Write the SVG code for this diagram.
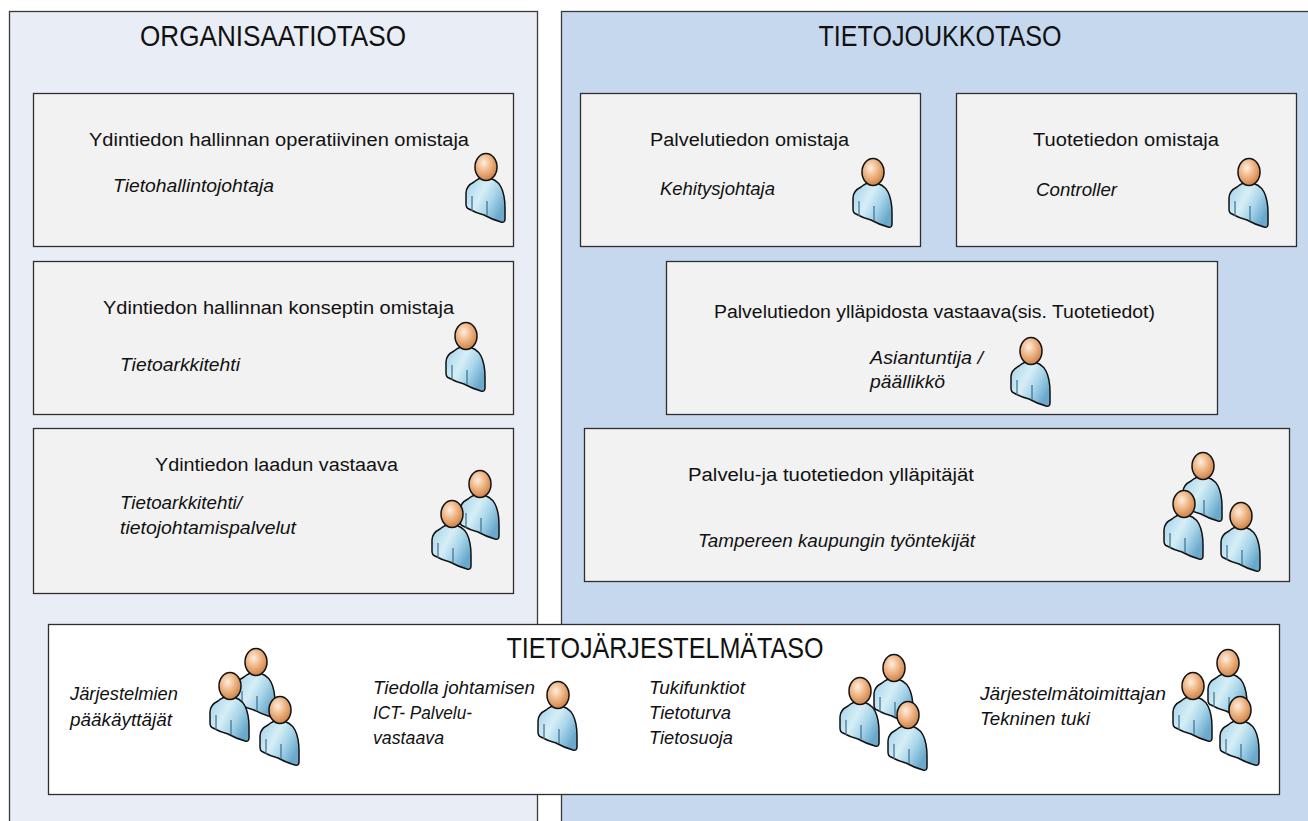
<svg xmlns="http://www.w3.org/2000/svg" width="1308" height="821" viewBox="0 0 1308 821">
<style>
.panel{stroke:#3a3a3a;stroke-width:1.3}
.box{fill:#f2f2f2;stroke:#2e2e2e;stroke-width:1.3}
.t{font-family:"Liberation Sans",Arial,sans-serif;fill:#111}
.h{font-size:30px}
.n{font-size:18px}
.i{font-size:18px;font-style:italic}
</style>
<defs>
<radialGradient id="gHead" cx="0.4" cy="0.35" r="0.7">
<stop offset="0" stop-color="#fdeee0"/>
<stop offset="0.45" stop-color="#f0b888"/>
<stop offset="1" stop-color="#c97c40"/>
</radialGradient>
<linearGradient id="gBody" x1="0" y1="0" x2="1" y2="0.6">
<stop offset="0" stop-color="#9fd0ea"/>
<stop offset="0.45" stop-color="#d6eef6"/>
<stop offset="0.7" stop-color="#a9d6ea"/>
<stop offset="1" stop-color="#6aa8cc"/>
</linearGradient>
<symbol id="person" viewBox="0 0 40 70" width="40" height="70" overflow="visible">
<path d="M8 29 Q14 24 20 25 Q30 25 35 34 Q39 42 39 55 L39 66 Q39 70 35 69 Q25 66 18 62 Q10 60 3 56 Q0 55 0 51 L0 40 Q0 33 8 29 Z" fill="url(#gBody)" stroke="#111" stroke-width="1.5"/>
<path d="M14 26 Q20 30 26 26 L26 24 L14 24 Z" fill="#5f9cc0"/>
<path d="M6 43 L6 58 M21 48 L21 63" stroke="#3d6f90" stroke-width="1.2" fill="none"/>
<ellipse cx="20" cy="14" rx="11" ry="13.5" fill="url(#gHead)" stroke="#111" stroke-width="1.5"/>
</symbol>
</defs>

<g id="panel-organisaatiotaso">
<rect class="panel" x="9.5" y="11.5" width="528" height="830" fill="#e9edf5"/>
<text class="t h" x="273" y="46" text-anchor="middle" textLength="266" lengthAdjust="spacingAndGlyphs">ORGANISAATIOTASO</text>
</g>
<g id="panel-tietojoukkotaso">
<rect class="panel" x="561.5" y="11.5" width="780" height="830" fill="#c6d8ee"/>
<text class="t h" x="940" y="46" text-anchor="middle" textLength="243" lengthAdjust="spacingAndGlyphs">TIETOJOUKKOTASO</text>
</g>

<g id="node-operatiivinen">
<rect class="box" x="33.5" y="93.5" width="480" height="153"/>
<text class="t n" x="89" y="146" textLength="380" lengthAdjust="spacingAndGlyphs">Ydintiedon hallinnan operatiivinen omistaja</text>
<text class="t i" x="113" y="192" textLength="161" lengthAdjust="spacingAndGlyphs">Tietohallintojohtaja</text>
<use href="#person" x="466" y="153"/>
</g>

<g id="node-konsepti">
<rect class="box" x="33.5" y="261.5" width="480" height="153"/>
<text class="t n" x="103" y="314" textLength="351" lengthAdjust="spacingAndGlyphs">Ydintiedon hallinnan konseptin omistaja</text>
<text class="t i" x="120" y="371" textLength="120" lengthAdjust="spacingAndGlyphs">Tietoarkkitehti</text>
<use href="#person" x="446" y="322"/>
</g>

<g id="node-laatu">
<rect class="box" x="33.5" y="428.5" width="480" height="165"/>
<text class="t n" x="155" y="471" textLength="243" lengthAdjust="spacingAndGlyphs">Ydintiedon laadun vastaava</text>
<text class="t i" x="120" y="509" textLength="122" lengthAdjust="spacingAndGlyphs">Tietoarkkitehti/</text>
<text class="t i" x="120" y="534" textLength="176" lengthAdjust="spacingAndGlyphs">tietojohtamispalvelut</text>
<use href="#person" x="460" y="470"/>
<use href="#person" x="432" y="500"/>
</g>

<g id="node-palvelutiedon-omistaja">
<rect class="box" x="580.5" y="93.5" width="340" height="153"/>
<text class="t n" x="650" y="146" textLength="199" lengthAdjust="spacingAndGlyphs">Palvelutiedon omistaja</text>
<text class="t i" x="660" y="195" textLength="115" lengthAdjust="spacingAndGlyphs">Kehitysjohtaja</text>
<use href="#person" x="853" y="158"/>
</g>

<g id="node-tuotetiedon-omistaja">
<rect class="box" x="956.5" y="93.5" width="340" height="153"/>
<text class="t n" x="1033" y="146" textLength="186" lengthAdjust="spacingAndGlyphs">Tuotetiedon omistaja</text>
<text class="t i" x="1036" y="196" textLength="81" lengthAdjust="spacingAndGlyphs">Controller</text>
<use href="#person" x="1229" y="158"/>
</g>

<g id="node-yllapidosta-vastaava">
<rect class="box" x="666.5" y="261.5" width="551" height="153"/>
<text class="t n" x="714" y="318" textLength="441" lengthAdjust="spacingAndGlyphs">Palvelutiedon ylläpidosta vastaava(sis. Tuotetiedot)</text>
<text class="t i" x="870" y="364" textLength="113" lengthAdjust="spacingAndGlyphs">Asiantuntija /</text>
<text class="t i" x="870" y="388" textLength="75" lengthAdjust="spacingAndGlyphs">päällikkö</text>
<use href="#person" x="1011" y="337"/>
</g>

<g id="node-yllapitajat">
<rect class="box" x="584.5" y="428.5" width="705" height="153"/>
<text class="t n" x="688" y="481" textLength="286" lengthAdjust="spacingAndGlyphs">Palvelu-ja tuotetiedon ylläpitäjät</text>
<text class="t i" x="698" y="547" textLength="277" lengthAdjust="spacingAndGlyphs">Tampereen kaupungin työntekijät</text>
<use href="#person" x="1183" y="452"/>
<use href="#person" x="1164" y="490"/>
<use href="#person" x="1221" y="502"/>
</g>

<g id="node-tietojarjestelmataso">
<rect x="48.5" y="624.5" width="1231" height="170" fill="#ffffff" stroke="#2e2e2e" stroke-width="1.3"/>
<text class="t h" x="665" y="658" text-anchor="middle" textLength="317" lengthAdjust="spacingAndGlyphs">TIETOJÄRJESTELMÄTASO</text>
</g>

<g id="node-paakayttajat">
<text class="t i" x="70" y="700" textLength="108" lengthAdjust="spacingAndGlyphs">Järjestelmien</text>
<text class="t i" x="70" y="726" textLength="102" lengthAdjust="spacingAndGlyphs">pääkäyttäjät</text>
<use href="#person" x="236" y="648"/>
<use href="#person" x="210" y="672"/>
<use href="#person" x="260" y="696"/>
</g>

<g id="node-ict-palveluvastaava">
<text class="t i" x="373" y="694" textLength="162" lengthAdjust="spacingAndGlyphs">Tiedolla johtamisen</text>
<text class="t i" x="373" y="719" textLength="99" lengthAdjust="spacingAndGlyphs">ICT- Palvelu-</text>
<text class="t i" x="373" y="744" textLength="71" lengthAdjust="spacingAndGlyphs">vastaava</text>
<use href="#person" x="538" y="681"/>
</g>

<g id="node-tukifunktiot">
<text class="t i" x="649" y="694" textLength="96" lengthAdjust="spacingAndGlyphs">Tukifunktiot</text>
<text class="t i" x="649" y="719" textLength="82" lengthAdjust="spacingAndGlyphs">Tietoturva</text>
<text class="t i" x="649" y="744" textLength="84" lengthAdjust="spacingAndGlyphs">Tietosuoja</text>
<use href="#person" x="874" y="654"/>
<use href="#person" x="840" y="677"/>
<use href="#person" x="888" y="701"/>
</g>

<g id="node-jarjestelmatoimittaja">
<text class="t i" x="980" y="700" textLength="186" lengthAdjust="spacingAndGlyphs">Järjestelmätoimittajan</text>
<text class="t i" x="980" y="725" textLength="110" lengthAdjust="spacingAndGlyphs">Tekninen tuki</text>
<use href="#person" x="1208" y="649"/>
<use href="#person" x="1173" y="672"/>
<use href="#person" x="1220" y="696"/>
</g>

<g id="connectors"></g>
</svg>
